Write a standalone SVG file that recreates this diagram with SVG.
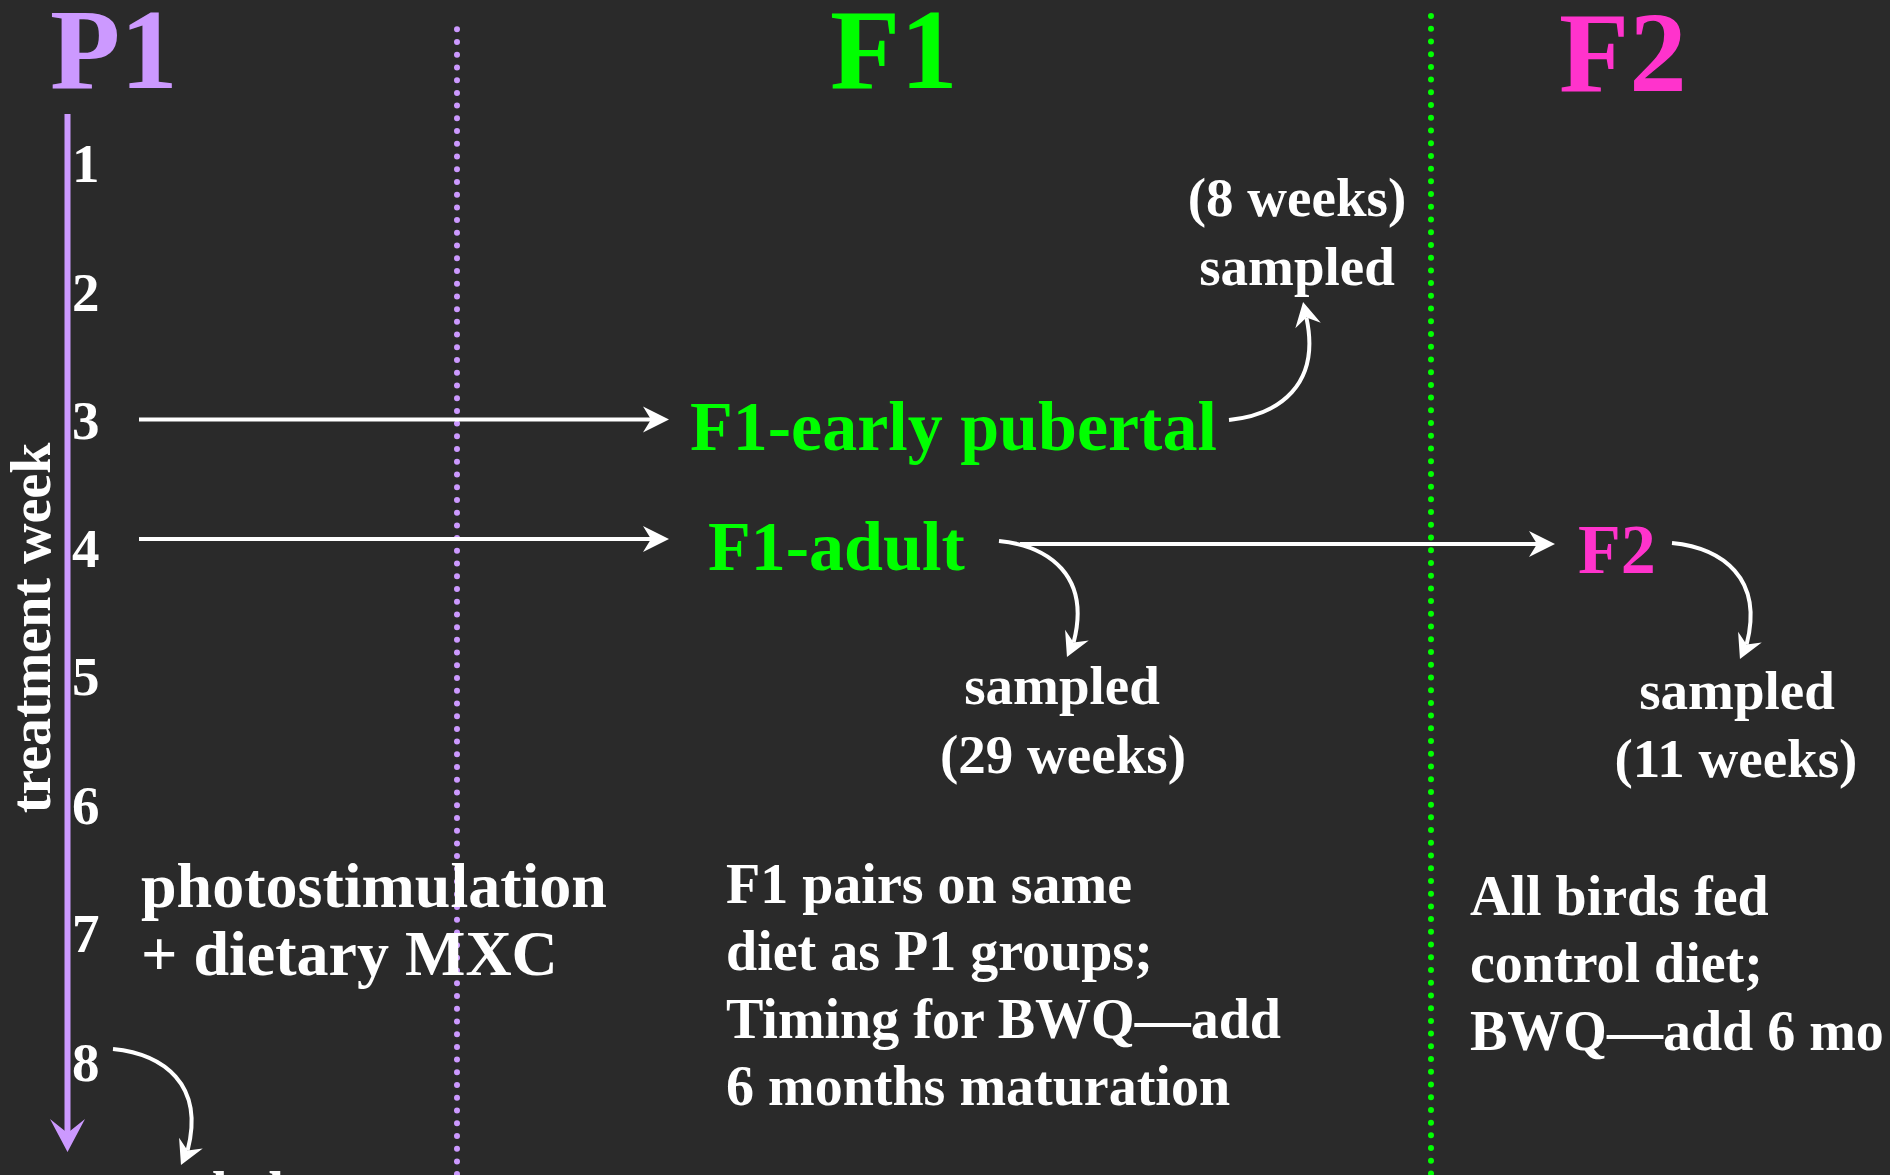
<svg xmlns="http://www.w3.org/2000/svg" width="1890" height="1175" viewBox="0 0 1890 1175">
<style>
.t{font-family:"Liberation Serif","Times New Roman",serif;font-weight:bold;fill:#ffffff}
.h{font-size:115px}
.n{font-size:55px}
.b{font-size:56px}
.big{font-size:64px}
.node{font-size:70px}
.mid{text-anchor:middle}
.purple{fill:#cc99ff}
.green{fill:#00ff00}
.pink{fill:#ff33cc}
.arrow{fill:none;stroke:#ffffff;stroke-width:4}
.dots{fill:none;stroke-width:6;stroke-linecap:round;stroke-dasharray:0 12.72}
</style>
<defs>
<marker id="head" markerUnits="userSpaceOnUse" markerWidth="28" markerHeight="26" refX="8" refY="13" orient="auto" overflow="visible">
<path d="M0,0 L26,13 L0,26 L8,13 Z" fill="#ffffff"/>
</marker>
<marker id="headDown" markerUnits="userSpaceOnUse" markerWidth="28" markerHeight="26" refX="8" refY="13" orient="114.5" overflow="visible">
<path d="M0,0 L24,13 L0,26 L8,13 Z" fill="#ffffff"/>
</marker>
<marker id="headUp" markerUnits="userSpaceOnUse" markerWidth="28" markerHeight="26" refX="8" refY="13" orient="-102" overflow="visible">
<path d="M0,0 L24,13 L0,26 L8,13 Z" fill="#ffffff"/>
</marker>
<marker id="headPurple" markerUnits="userSpaceOnUse" markerWidth="34" markerHeight="36" refX="14" refY="17.5" orient="auto" overflow="visible">
<path d="M0,0 L33,17.5 L0,35 L14,17.5 Z" fill="#cc99ff"/>
</marker>
</defs>
<rect x="0" y="0" width="1890" height="1175" fill="#2a2a2a"/>

<g id="dividers">
<line class="dots" x1="457" y1="29.3" x2="457" y2="1180" stroke="#cc99ff"/>
<line class="dots" x1="1431" y1="16" x2="1431" y2="1180" stroke="#00ff00"/>
</g>

<g id="header-p1"><text class="t h purple" x="50" y="88">P1</text></g>
<g id="header-f1"><text class="t h green" x="830" y="88">F1</text></g>
<g id="header-f2"><text class="t h pink" x="1559" y="91">F2</text></g>

<g id="week-axis">
<line x1="67.5" y1="114" x2="67.5" y2="1133" stroke="#cc99ff" stroke-width="6" marker-end="url(#headPurple)"/>
<text class="t b mid" transform="translate(50,628) rotate(-90)">treatment week</text>
</g>

<g id="week-labels">
<text class="t n" x="72" y="182">1</text>
<text class="t n" x="72" y="310.5">2</text>
<text class="t n" x="72" y="439">3</text>
<text class="t n" x="72" y="567">4</text>
<text class="t n" x="72" y="695">5</text>
<text class="t n" x="72" y="824">6</text>
<text class="t n" x="72" y="952">7</text>
<text class="t n" x="72" y="1081">8</text>
</g>

<g id="node-f1-early"><text class="t node green" x="690" y="450">F1-early pubertal</text></g>
<g id="node-f1-adult"><text class="t node green" x="708" y="570">F1-adult</text></g>
<g id="node-f2"><text class="t node pink" x="1578" y="573">F2</text></g>

<g id="label-8weeks">
<text class="t n mid" x="1297" y="216">(8 weeks)</text>
<text class="t n mid" x="1297" y="285">sampled</text>
</g>
<g id="label-29weeks">
<text class="t n mid" x="1062" y="704">sampled</text>
<text class="t n mid" x="1063" y="773">(29 weeks)</text>
</g>
<g id="label-11weeks">
<text class="t n mid" x="1737" y="709">sampled</text>
<text class="t n mid" x="1736" y="777">(11 weeks)</text>
</g>
<g id="label-p1-sampled">
<text class="t b mid" x="184" y="1211">sampled</text>
</g>

<g id="note-p1">
<text class="t big" x="141" y="907">photostimulation</text>
<text class="t big" x="141" y="975">+ dietary MXC</text>
</g>
<g id="note-f1">
<text class="t b" x="726" y="903">F1 pairs on same</text>
<text class="t b" x="726" y="970">diet as P1 groups;</text>
<text class="t b" x="726" y="1038">Timing for BWQ—add</text>
<text class="t b" x="726" y="1105">6 months maturation</text>
</g>
<g id="note-f2">
<text class="t b" x="1470" y="915">All birds fed</text>
<text class="t b" x="1470" y="982">control diet;</text>
<text class="t b" x="1470" y="1050">BWQ—add 6 mo</text>
</g>

<g id="connectors">
<line class="arrow" x1="139" y1="419.5" x2="651" y2="419.5" marker-end="url(#head)"/>
<line class="arrow" x1="139" y1="539" x2="651" y2="539" marker-end="url(#head)"/>
<line class="arrow" x1="1020" y1="544" x2="1537" y2="544" marker-end="url(#head)"/>
<path class="arrow" d="M1229,420 C1279,415 1321,385 1306.4,317.6" marker-end="url(#headUp)"/>
<path class="arrow" d="M999,541 C1049,546 1091,576 1073.6,642.4" marker-end="url(#headDown)"/>
<path class="arrow" d="M1672,543 C1722,548 1764,578 1746.6,644.4" marker-end="url(#headDown)"/>
<path class="arrow" d="M113,1049 C163,1054 205,1084 187.6,1150.4" marker-end="url(#headDown)"/>
</g>
</svg>
